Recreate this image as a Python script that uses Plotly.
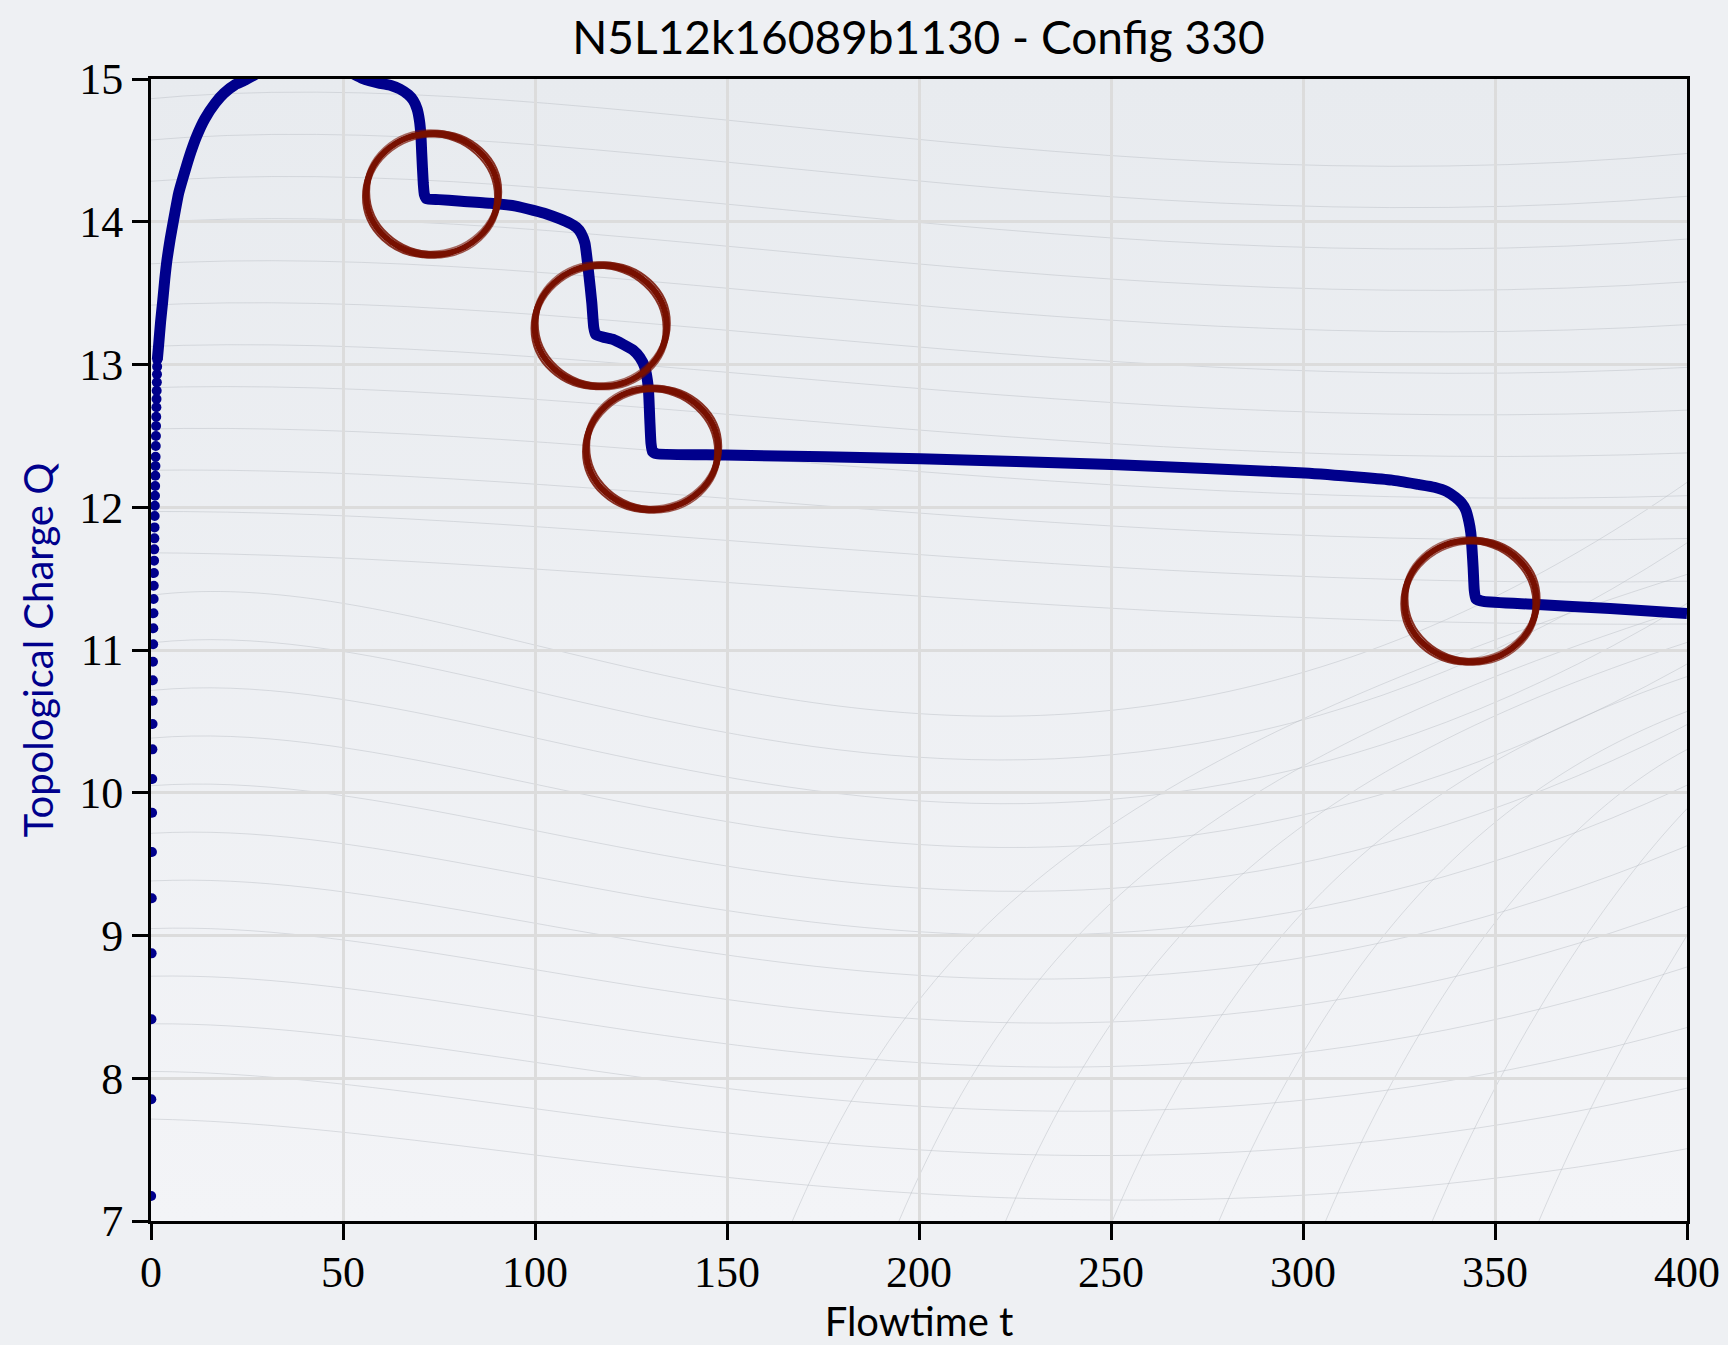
import base64
import plotly.graph_objects as go

# ---------------- data ----------------
# early, sparse flow-time samples (drawn as single dots next to the y axis)
early_t = [0.04, 0.08, 0.12, 0.16, 0.20, 0.24, 0.28, 0.32, 0.36, 0.40,
           0.44, 0.48, 0.52, 0.56, 0.60, 0.64, 0.68, 0.72, 0.76, 0.80,
           0.84, 0.88, 0.92, 0.96, 1.00, 1.04, 1.08, 1.12, 1.16, 1.20,
           1.24, 1.28, 1.32, 1.36, 1.40, 1.44, 1.48, 1.52, 1.56, 1.60, 1.64]
early_q = [7.175, 7.853, 8.413, 8.875, 9.261, 9.585, 9.860, 10.096, 10.304, 10.482,
           10.645, 10.788, 10.918, 11.040, 11.152, 11.257, 11.357, 11.450, 11.539, 11.626,
           11.705, 11.782, 11.859, 11.939, 12.011, 12.081, 12.149, 12.221, 12.289, 12.354,
           12.429, 12.499, 12.569, 12.634, 12.700, 12.758, 12.816, 12.875, 12.931, 12.985, 13.032]

# dense part of the flow (continuous band)
flow_t = [1.64, 2.0, 2.5, 3.0, 3.6, 4.2, 5.0, 5.8, 7.2, 8.9, 10.4, 11.9, 14.0, 16.7, 19.0, 21.9,
          24.0, 30.0, 40.0, 50.0, 55.0, 59.6, 62.5, 64.8, 67.0, 68.3, 69.3, 69.9, 70.3,
          70.5, 70.9, 71.2, 71.8, 75.0, 80.0, 88.3, 95.0, 99.6, 103.0, 106.5,
          109.0, 110.8, 112.0, 113.0, 113.9, 114.8, 115.3, 115.8, 118.0, 120.4,
          123.0, 125.6, 127.3, 128.6, 129.5, 129.9, 130.2, 130.6, 131.7, 149.6,
          200.4, 250.1, 300.4, 315.0, 323.2, 330.0, 334.2, 337.5, 339.7, 341.3,
          342.4, 343.2, 343.7, 344.3, 344.6, 345.0, 347.0, 360.0, 380.0, 400.0]
flow_q = [13.032, 13.14, 13.30, 13.43, 13.60, 13.74, 13.88, 14.00, 14.20, 14.36, 14.49, 14.60, 14.72, 14.83, 14.90, 14.96,
          14.985, 15.07, 15.10, 15.07, 15.005, 14.97, 14.955, 14.93, 14.89, 14.85, 14.79, 14.71, 14.60,
          14.48, 14.27, 14.19, 14.16, 14.155, 14.145, 14.13, 14.11, 14.08, 14.055, 14.02,
          13.99, 13.96, 13.92, 13.85, 13.66, 13.43, 13.26, 13.21, 13.19, 13.175,
          13.14, 13.10, 13.05, 12.98, 12.84, 12.61, 12.45, 12.39, 12.375, 12.366,
          12.34, 12.30, 12.24, 12.21, 12.19, 12.16, 12.14, 12.11, 12.07, 12.03,
          11.98, 11.90, 11.82, 11.58, 11.42, 11.36, 11.34, 11.32, 11.29, 11.255]

# hand-drawn highlight circles around the drops (centre t, centre Q)
circle_t = [73.2, 117.1, 130.5, 343.6]
circle_q = [14.193, 13.271, 12.407, 11.342]

x_ticks = [0, 50, 100, 150, 200, 250, 300, 350, 400]
y_ticks = [7, 8, 9, 10, 11, 12, 13, 14, 15]

title_text = "N5L12k16089b1130 - Config 330"
x_title = "Flowtime t"
y_title = "Topological Charge Q"

# ---------------- style ----------------
BLUE = "#00008c"
RED = "#781000"
SANS = "Lato, 'Open Sans', sans-serif"
SERIF = "'Liberation Serif', 'DejaVu Serif', serif"
RT, RQ = 17.2, 0.425   # circle radii in data units

fig = go.Figure()

fig.add_trace(go.Scatter(
    x=flow_t, y=flow_q, mode="lines",
    line=dict(color=BLUE, width=11, shape="spline", smoothing=0.5),
    hoverinfo="skip", showlegend=False,
))
fig.add_trace(go.Scatter(
    x=early_t, y=early_q, mode="markers",
    marker=dict(color=BLUE, size=10, line=dict(width=0)),
    hoverinfo="skip", showlegend=False,
))

# brush-like circles: a few overlapping strokes
strokes = [(0.0, 0.0, 6.0, 1.0), (0.8, 0.018, 2.0, 0.85), (-0.8, -0.018, 2.0, 0.85),
           (0.5, -0.022, 1.5, 0.7), (-0.4, 0.024, 1.5, 0.6)]
for ct, cq in zip(circle_t, circle_q):
    for dt, dq, w, op in strokes:
        fig.add_shape(type="circle", xref="x", yref="y",
                      x0=ct - RT + dt, x1=ct + RT + dt,
                      y0=cq - RQ + dq, y1=cq + RQ + dq,
                      line=dict(color=RED, width=w), opacity=op, layer="above")

# soft background gradient with faint decorative swirls
paths = []
for k in range(12):
    y = 30 + k * 48
    paths.append(f'<path d="M -60 {y} C 450 {y - 70 + 6 * k} 1050 {y + 140 - 4 * k} 1800 {y + 50 + 3 * k}"/>')
for k in range(12):
    y = 620 + k * 55
    paths.append(f'<path d="M -60 {y} C 380 {y - 120 + 10 * k} 950 {y + 480 - 25 * k} 1800 {y - 200 + 20 * k}"/>')
for k in range(8):
    x = 700 + k * 120
    paths.append(f'<path d="M {x} 1400 C {x + 150} 1000 {x + 350} 800 1800 {560 + 40 * k}"/>')
svg = ('<svg xmlns="http://www.w3.org/2000/svg" width="1728" height="1345">'
       '<defs><linearGradient id="g" x1="0" y1="0" x2="0" y2="1">'
       '<stop offset="0" stop-color="#e8ebef"/><stop offset="1" stop-color="#f3f4f7"/>'
       '</linearGradient></defs><rect width="1728" height="1345" fill="url(#g)"/>'
       '<g fill="none" stroke="#b9bdc4" stroke-width="1" stroke-opacity="0.55">'
       + "".join(paths) + '</g></svg>')
uri = "data:image/svg+xml;base64," + base64.b64encode(svg.encode()).decode()
fig.add_layout_image(dict(source=uri, xref="paper", yref="paper", x=0, y=1,
                          sizex=1, sizey=1, xanchor="left", yanchor="top",
                          sizing="stretch", layer="below"))

axis_common = dict(
    showline=True, linecolor="black", linewidth=3, mirror=True,
    ticks="outside", ticklen=16, tickwidth=3, tickcolor="black",
    showgrid=True, gridcolor="#dcdcdc", gridwidth=2.5,
    zeroline=False, automargin=False,
    tickfont=dict(family=SERIF, size=44, color="black"),
)

fig.update_layout(
    width=1728, height=1345,
    margin=dict(l=151, r=41, t=79, b=124),
    paper_bgcolor="#eef0f3", plot_bgcolor="rgba(0,0,0,0)",
    title=dict(text=title_text, x=0.5315, xanchor="center", y=1 - 38 / 1345, yanchor="middle",
               font=dict(family=SANS, size=46, color="black")),
    xaxis=dict(range=[0, 400], tickvals=x_ticks, ticktext=[str(v) for v in x_ticks],
               ticklabelstandoff=-6,
               title=dict(text=x_title, font=dict(family=SANS, size=40, color="black"), standoff=4),
               **axis_common),
    yaxis=dict(range=[7, 15], tickvals=y_ticks, ticktext=[str(v) for v in y_ticks],
               ticklabelstandoff=0,
               title=dict(text=y_title, font=dict(family=SANS, size=40, color=BLUE), standoff=14),
               **axis_common),
)

fig.write_html("out.html")
